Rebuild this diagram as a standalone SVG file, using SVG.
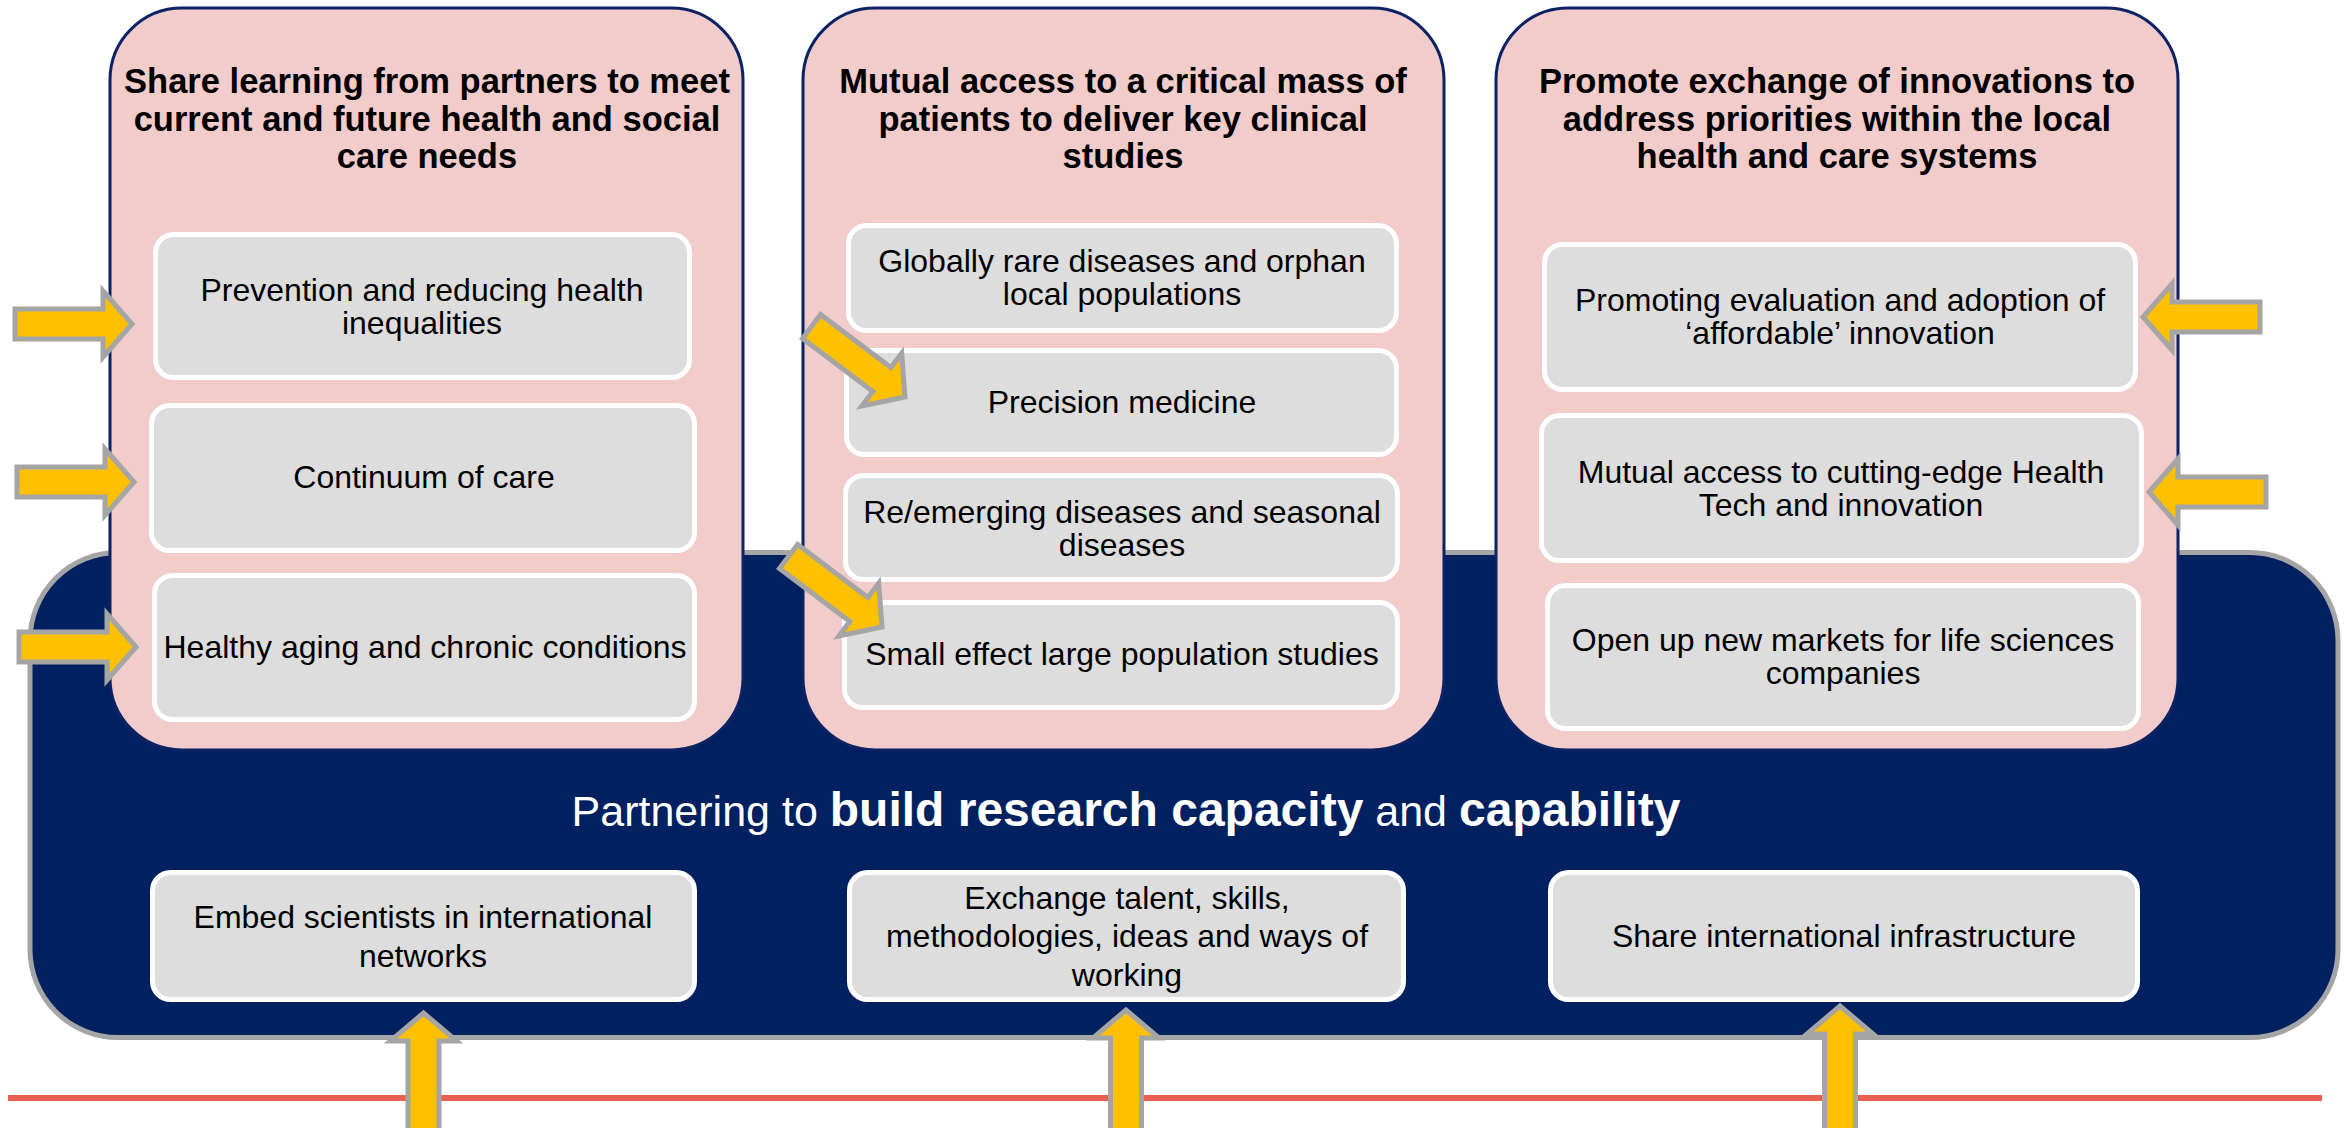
<svg xmlns="http://www.w3.org/2000/svg" xmlns:xlink="http://www.w3.org/1999/xlink" width="2346" height="1128" viewBox="0 0 2346 1128">
<style>
.panel{fill:#F2CBCB;stroke:#0B2265;stroke-width:3}
.box{fill:#DDDDDD;stroke:#FFFFFF;stroke-width:5}
.title{font-family:"Liberation Sans",Arial,sans-serif;font-weight:bold;font-size:34.5px;fill:#000;text-anchor:middle}
.txt{font-family:"Liberation Sans",Arial,sans-serif;font-size:32px;fill:#000;text-anchor:middle}
.big{font-family:"Liberation Sans",Arial,sans-serif;font-size:43px;fill:#FFFFFF;text-anchor:middle}
.big .b{font-weight:bold;font-size:48px}
.arrow{fill:#FFC000;stroke:#A5A5A5;stroke-width:5;stroke-linejoin:miter}
</style>
<defs>
<path id="arr" d="M-117,-15 H-29 V-33 L0,0 L-29,33 V15 H-117 Z"/>
<path id="arrLong" d="M-160,-15.5 H-28 V-33 L0,0 L-28,33 V15.5 H-160 Z"/>
</defs>

<g id="base">
<rect x="30" y="552.5" width="2308" height="485" rx="88" ry="88" fill="#002060" stroke="#A5A5A5" stroke-width="5"/>
<line x1="8" y1="1098" x2="2322" y2="1098" stroke="#EB5F4F" stroke-width="6"/>
</g>

<g id="panel1">
<rect class="panel" x="110" y="8" width="633" height="742" rx="72" ry="72"/>
<text class="title" x="427" y="93">Share learning from partners to meet</text>
<text class="title" x="427" y="131">current and future health and social</text>
<text class="title" x="427" y="168">care needs</text>
</g>
<g id="p1-prevention">
<rect class="box" x="155.5" y="234.5" width="534" height="143" rx="18"/>
<text class="txt" x="422" y="301">Prevention and reducing health</text>
<text class="txt" x="422" y="334">inequalities</text>
</g>
<g id="p1-continuum">
<rect class="box" x="151.5" y="405.5" width="543" height="145" rx="18"/>
<text class="txt" x="424" y="488">Continuum of care</text>
</g>
<g id="p1-healthy">
<rect class="box" x="154.5" y="575.5" width="540" height="144" rx="18"/>
<text class="txt" x="425" y="658">Healthy aging and chronic conditions</text>
</g>

<g id="panel2">
<rect class="panel" x="803" y="8" width="641" height="742" rx="72" ry="72"/>
<text class="title" x="1123" y="93">Mutual access to a critical mass of</text>
<text class="title" x="1123" y="131">patients to deliver key clinical</text>
<text class="title" x="1123" y="168">studies</text>
</g>
<g id="p2-rare">
<rect class="box" x="848.5" y="225.5" width="548" height="105" rx="18"/>
<text class="txt" x="1122" y="272">Globally rare diseases and orphan</text>
<text class="txt" x="1122" y="305">local populations</text>
</g>
<g id="p2-precision">
<rect class="box" x="846.5" y="350.5" width="550" height="104" rx="18"/>
<text class="txt" x="1122" y="413">Precision medicine</text>
</g>
<g id="p2-reemerging">
<rect class="box" x="845.5" y="475.5" width="552" height="104" rx="18"/>
<text class="txt" x="1122" y="523">Re/emerging diseases and seasonal</text>
<text class="txt" x="1122" y="556">diseases</text>
</g>
<g id="p2-small">
<rect class="box" x="844.5" y="602.5" width="553" height="105" rx="18"/>
<text class="txt" x="1122" y="665">Small effect large population studies</text>
</g>

<g id="panel3">
<rect class="panel" x="1496" y="8" width="682" height="742" rx="72" ry="72"/>
<text class="title" x="1837" y="93">Promote exchange of innovations to</text>
<text class="title" x="1837" y="131">address priorities within the local</text>
<text class="title" x="1837" y="168">health and care systems</text>
</g>
<g id="p3-promoting">
<rect class="box" x="1544.5" y="244.5" width="591" height="145" rx="18"/>
<text class="txt" x="1840" y="311">Promoting evaluation and adoption of</text>
<text class="txt" x="1840" y="344">‘affordable’ innovation</text>
</g>
<g id="p3-healthtech">
<rect class="box" x="1541.5" y="415.5" width="600" height="145" rx="18"/>
<text class="txt" x="1841" y="483">Mutual access to cutting-edge Health</text>
<text class="txt" x="1841" y="516">Tech and innovation</text>
</g>
<g id="p3-markets">
<rect class="box" x="1547.5" y="585.5" width="591" height="143" rx="18"/>
<text class="txt" x="1843" y="651">Open up new markets for life sciences</text>
<text class="txt" x="1843" y="684">companies</text>
</g>

<g id="capacity-title">
<text class="big" x="1126" y="826">Partnering to <tspan class="b">build research capacity</tspan> and <tspan class="b">capability</tspan></text>
</g>
<g id="b-embed">
<rect class="box" x="152.5" y="872.5" width="542" height="127" rx="18"/>
<text class="txt" x="423" y="928">Embed scientists in international</text>
<text class="txt" x="423" y="967">networks</text>
</g>
<g id="b-exchange">
<rect class="box" x="849.5" y="872.5" width="554" height="127" rx="18"/>
<text class="txt" x="1127" y="909">Exchange talent, skills,</text>
<text class="txt" x="1127" y="947">methodologies, ideas and ways of</text>
<text class="txt" x="1127" y="986">working</text>
</g>
<g id="b-infra">
<rect class="box" x="1550.5" y="872.5" width="587" height="127" rx="18"/>
<text class="txt" x="1844" y="947">Share international infrastructure</text>
</g>

<g id="connectors">
<use xlink:href="#arr" class="arrow" transform="translate(132,324)"/>
<use xlink:href="#arr" class="arrow" transform="translate(134,482)"/>
<use xlink:href="#arr" class="arrow" transform="translate(136,647)"/>
<use xlink:href="#arr" class="arrow" transform="translate(905,397) rotate(37)"/>
<use xlink:href="#arr" class="arrow" transform="translate(882,627) rotate(37)"/>
<use xlink:href="#arr" class="arrow" transform="translate(2143,317) rotate(180)"/>
<use xlink:href="#arr" class="arrow" transform="translate(2149,492) rotate(180)"/>
<use xlink:href="#arrLong" class="arrow" transform="translate(423.5,1013) rotate(-90)"/>
<use xlink:href="#arrLong" class="arrow" transform="translate(1126,1010) rotate(-90)"/>
<use xlink:href="#arrLong" class="arrow" transform="translate(1840,1006) rotate(-90)"/>
</g>
</svg>
